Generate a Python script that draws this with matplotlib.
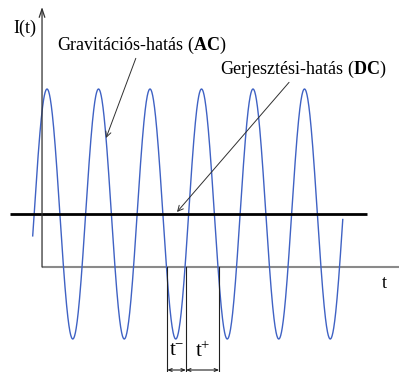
import numpy as np
import matplotlib.pyplot as plt

plt.rcParams['font.family'] = ['Liberation Serif', 'DejaVu Serif']
plt.rcParams['mathtext.fontset'] = 'custom'
plt.rcParams['mathtext.rm'] = 'Liberation Serif'
plt.rcParams['mathtext.it'] = 'Liberation Serif'
plt.rcParams['mathtext.bf'] = 'Liberation Serif:bold'

# signal parameters (time unit = one period, current unit = AC amplitude)
period = 1.0
ac_amplitude = 1.0
dc_level = 0.424
peak_time = 0.097
wave_span = [-0.181, 5.84]
dc_span = [-0.62, 6.31]

# t- / t+ interval boundaries
marker_times = [2.43, 2.795, 3.44]
marker_labels = [r'$\mathrm{t}^{-}$', r'$\mathrm{t}^{+}$']

ac_label = r'Gravitációs-hatás ($\mathbf{AC}$)'
dc_label = r'Gerjesztési-hatás ($\mathbf{DC}$)'

t = np.linspace(wave_span[0], wave_span[1], 1200)
current = dc_level + ac_amplitude * np.cos(2 * np.pi * (t - peak_time) / period)

fig = plt.figure(figsize=(3.99, 3.72), dpi=100)
ax = fig.add_axes([0, 0, 1, 1])
ax.set_xlim(-0.816, 6.932)
ax.set_ylim(-0.84, 2.136)
ax.axis('off')

# axes drawn by hand
ax.plot([0, 6.932], [0, 0], color='#8a8a8a', lw=1.5, solid_capstyle='butt')
ax.annotate('', xy=(0, 2.08), xytext=(0, 0),
            arrowprops=dict(arrowstyle='->,head_length=0.6,head_width=0.2',
                            color='#303030', lw=0.9, shrinkA=0, shrinkB=0))

ax.plot(t, current, color='#3f62c4', lw=1.0)
ax.plot(dc_span, [dc_level, dc_level], color='black', lw=2.0, solid_capstyle='butt')

# interval markers below the axis
for m in marker_times:
    ax.plot([m, m], [0, -0.83], color='#202020', lw=0.8)
for a, b, lab in zip(marker_times[:-1], marker_times[1:], marker_labels):
    ax.annotate('', xy=(a, -0.824), xytext=(b, -0.824),
                arrowprops=dict(arrowstyle='<->,head_length=0.25,head_width=0.1',
                                color='#202020', lw=0.8, shrinkA=0, shrinkB=0))
    ax.text((a + b) / 2, -0.68, lab, ha='center', va='center', fontsize=15)

# labels
ax.text(-0.33, 1.912, 'I(t)', ha='center', va='center', fontsize=13)
ax.text(6.64, -0.136, 't', ha='center', va='center', fontsize=13)

ax.annotate(ac_label, xy=(1.243, 1.032), xytext=(1.94, 1.776),
            ha='center', va='center', fontsize=13,
            arrowprops=dict(arrowstyle='->,head_length=0.3,head_width=0.15',
                            color='#303030', lw=0.7, shrinkA=0, shrinkB=0,
                            relpos=(0.47, 0.0)))
ax.annotate(dc_label, xy=(2.621, 0.44), xytext=(5.07, 1.584),
            ha='center', va='center', fontsize=13,
            arrowprops=dict(arrowstyle='->,head_length=0.3,head_width=0.15',
                            color='#303030', lw=0.7, shrinkA=0, shrinkB=0,
                            relpos=(0.43, 0.0)))

fig.savefig('out.png', dpi=100)
